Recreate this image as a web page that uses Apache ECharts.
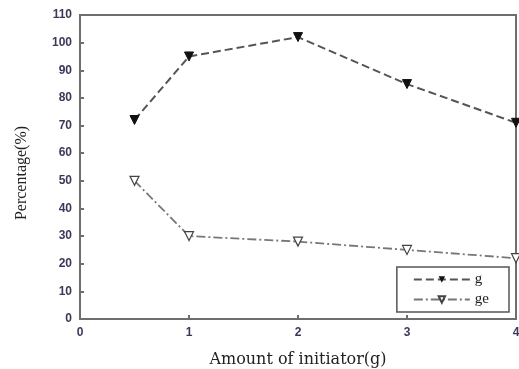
<!DOCTYPE html>
<html><head><meta charset="utf-8">
<script src="https://cdn.jsdelivr.net/npm/echarts@6/dist/echarts.min.js"></script>
<style>html,body{margin:0;padding:0;background:#fff}#c{width:519px;height:369px}</style>
</head><body><div id="c"></div>
<script>
var xValues = [0.5, 1, 2, 3, 4];
var gValues = [72, 95, 102, 85, 71];
var geValues = [50, 30, 28, 25, 22];
var seriesNames = ['g', 'ge'];
var xTitle = 'Amount of initiator(g)';
var yTitle = 'Percentage(%)';

function pairs(xs, ys){ return xs.map(function(x,i){ return [x, ys[i]]; }); }

var tickLabel = {color:'#3a3a58', fontFamily:'Arial, Liberation Sans', fontWeight:'bold', fontSize:12};
var chart = echarts.init(document.getElementById('c'));
chart.setOption({
  animation:false,
  grid:{left:80, right:3, top:15, bottom:50, show:true, borderColor:'#6e6e6e', borderWidth:2, containLabel:false, outerBoundsMode:'none'},
  xAxis:{type:'value', min:0, max:4, interval:1,
    axisLine:{show:false}, splitLine:{show:false},
    axisTick:{show:true, inside:true, length:4, lineStyle:{color:'#6e6e6e', width:2}},
    axisLabel:Object.assign({margin:8}, tickLabel),
    name:xTitle, nameLocation:'middle', nameGap:33,
    nameTextStyle:{fontFamily:'DejaVu Serif, serif', fontSize:16, color:'#222'}},
  yAxis:{type:'value', min:0, max:110, interval:10,
    axisLine:{show:false}, splitLine:{show:false},
    axisTick:{show:true, inside:true, length:4, lineStyle:{color:'#6e6e6e', width:2}},
    axisLabel:Object.assign({margin:8}, tickLabel),
    name:yTitle, nameLocation:'middle', nameGap:50,
    nameTextStyle:{fontFamily:'Liberation Serif, serif', fontSize:16, color:'#222', padding:[0,12,0,0]}},
  legend:{right:10, bottom:57, orient:'vertical', itemWidth:56, itemHeight:8, itemGap:5,
    padding:[5,20,5,16], borderColor:'#555', borderWidth:1.5, backgroundColor:'#fff',
    textStyle:{fontFamily:'Liberation Serif, serif', fontSize:15, color:'#222'},
    data:seriesNames},
  series:[
    {name:seriesNames[0], type:'line', data:pairs(xValues,gValues), symbol:'triangle', symbolRotate:180, symbolSize:9,
     itemStyle:{color:'#111', borderColor:'#111'}, lineStyle:{color:'#555', width:2, type:[8,4]}},
    {name:seriesNames[1], type:'line', data:pairs(xValues,geValues), symbol:'triangle', symbolRotate:180, symbolSize:9,
     itemStyle:{color:'#fff', borderColor:'#444', borderWidth:1.2}, lineStyle:{color:'#777', width:1.8, type:[9,3,2,3]}}
  ]
});
</script></body></html>
